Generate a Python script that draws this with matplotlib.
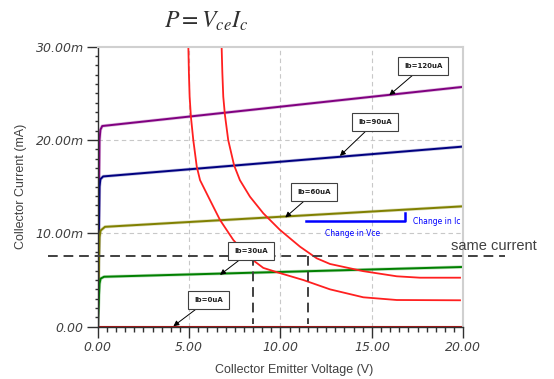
import matplotlib.pyplot as plt

# Ib curves (Vce in V, Ic in mA)
ib120_v = [0.0, 0.10, 0.15, 0.25, 20.0]
ib120_i = [0.0, 20.0, 21.1, 21.5, 25.7]
ib90_v = [0.0, 0.10, 0.15, 0.30, 20.0]
ib90_i = [0.0, 15.0, 15.8, 16.1, 19.3]
ib60_v = [0.0, 0.10, 0.16, 0.40, 20.0]
ib60_i = [0.0, 9.6, 10.3, 10.7, 12.9]
ib30_v = [0.0, 0.10, 0.16, 0.35, 20.0]
ib30_i = [0.0, 4.6, 5.15, 5.35, 6.4]
ib0_v = [0.0, 20.0]
ib0_i = [0.0, 0.0]

# constant power curves
p1_v = [4.96, 4.99, 5.03, 5.10, 5.23, 5.42, 5.60, 6.14, 6.69, 7.42, 8.24, 9.06, 9.8,
        11.25, 12.71, 14.53, 16.36, 19.82]
p1_i = [30.0, 27.2, 24.65, 22.5, 20.0, 17.15, 15.7, 13.58, 11.44, 9.29, 7.5, 6.3, 5.84,
        5.0, 4.0, 3.15, 2.86, 2.83]
p2_v = [6.78, 6.82, 6.87, 6.96, 7.14, 7.46, 7.78, 8.33, 9.06, 9.97, 11.07, 11.98,
        12.71, 14.53, 16.36, 17.63, 19.82]
p2_i = [30.0, 27.2, 24.65, 22.7, 20.0, 17.3, 15.7, 13.93, 12.15, 10.37, 8.57, 7.33,
        6.72, 5.95, 5.4, 5.25, 5.25]

# same-current markers
same_i = 7.6
same_v = [8.5, 11.5]

# labels: text, box centre, arrow tip
ib_labels = ["Ib=120uA", "Ib=90uA", "Ib=60uA", "Ib=30uA", "Ib=0uA"]
box_xy = [(17.80, 27.9), (15.17, 21.9), (11.84, 14.4), (8.39, 8.1), (6.07, 2.9)]
tip_xy = [(15.95, 24.8), (13.25, 18.3), (10.26, 11.7), (6.69, 5.55), (4.14, 0.05)]

x_ticks = [0, 5, 10, 15, 20]
x_ticklabels = ["0.00", "5.00", "10.00", "15.00", "20.00"]
y_ticks = [0, 10, 20, 30]
y_ticklabels = ["0.00", "10.00m", "20.00m", "30.00m"]

dark = "#404040"
plt.rcParams["mathtext.fontset"] = "stix"

fig = plt.figure(figsize=(5.54, 3.79), dpi=100)
ax = fig.add_axes([0.1763, 0.138, 0.660, 0.7388])

ax.set_xlim(0, 20)
ax.set_ylim(0, 30)

# grid
for v in [5, 10, 15]:
    ax.axvline(v, color="#c8c8c8", lw=0.8, ls=(0, (4, 3)), zorder=0)
for i in [10, 20]:
    ax.axhline(i, color="#c8c8c8", lw=0.8, ls=(0, (4, 3)), zorder=0)

curves = [(ib120_v, ib120_i, "#800080"), (ib90_v, ib90_i, "#000080"),
          (ib60_v, ib60_i, "#808000"), (ib30_v, ib30_i, "#008000"),
          (ib0_v, ib0_i, "#b01010")]
for v, i, c in curves:
    ax.plot(v, i, color=c, lw=2.4, alpha=0.25, solid_capstyle="butt")
    ax.plot(v, i, color=c, lw=1.4)

ax.plot(p1_v, p1_i, color="#ff2020", lw=1.3, solid_joinstyle="round")
ax.plot(p2_v, p2_i, color="#ff2020", lw=1.3, solid_joinstyle="round")

# same current dashed lines
ax.plot([-2.7, 22.3], [same_i, same_i], color=dark, lw=1.4, ls=(0, (5, 3)), clip_on=False, zorder=4)
for v in same_v:
    ax.plot([v, v], [same_i, 0.3], color=dark, lw=1.4, ls=(0, (5, 3)), zorder=4)
ax.text(19.33, 8.65, "same current", color=dark, fontsize=10.5, family="Liberation Sans",
        ha="left", va="center")

# change in Ic / Vce
ax.plot([11.37, 16.79, 16.79], [11.36, 11.36, 12.15], color="#0000ff", lw=1.8)
ax.text(17.27, 11.22, "Change in Ic", color="#0000ff", fontsize=5.5, ha="left", va="center")
ax.text(12.43, 9.99, "Change in Vce", color="#0000ff", fontsize=5.5, ha="left", va="center")

# Ib annotations
for lab, bxy, txy in zip(ib_labels, box_xy, tip_xy):
    ax.annotate(lab, xy=txy, xytext=bxy, fontsize=5, fontweight="bold", color="#202020",
                ha="center", va="center",
                bbox=dict(boxstyle="square,pad=0.85", fc="white", ec=dark, lw=0.8),
                arrowprops=dict(arrowstyle="-|>", color="black", lw=0.7, mutation_scale=8,
                                shrinkA=0, shrinkB=0), zorder=5)

# axes styling
for s in ["top", "right"]:
    ax.spines[s].set_color("#d0d0d0")
    ax.spines[s].set_linewidth(1.5)
for s in ["left", "bottom"]:
    ax.spines[s].set_color("#303030")
    ax.spines[s].set_linewidth(1.0)

ax.set_xticks(x_ticks)
ax.set_xticklabels(x_ticklabels, style="italic", color=dark, fontsize=9)
ax.set_yticks(y_ticks)
ax.set_yticklabels(y_ticklabels, style="italic", color=dark, fontsize=9)
ax.set_xticks([v * 0.5 for v in range(41)], minor=True)
ax.set_yticks(list(range(31)), minor=True)
ax.tick_params(which="major", length=8, width=1, color="#303030", pad=2)
ax.tick_params(axis="x", which="minor", length=3.5, width=1, color="#303030")
ax.tick_params(axis="y", which="minor", length=2.2, width=1, color="#303030")

ax.set_xlabel("Collector Emitter Voltage (V)", fontsize=9, family="Liberation Sans", color=dark)
ax.set_ylabel("Collector Current (mA)", fontsize=9, family="Liberation Sans", color=dark)
ax.xaxis.set_label_coords(0.537, -0.133)
ax.yaxis.set_label_coords(-0.193, 0.5)

fig.text(0.373, 0.945, r"$P=V_{ce}I_c$", fontsize=17, color="#303030", ha="center", va="center")

fig.savefig("out.png", dpi=100)
